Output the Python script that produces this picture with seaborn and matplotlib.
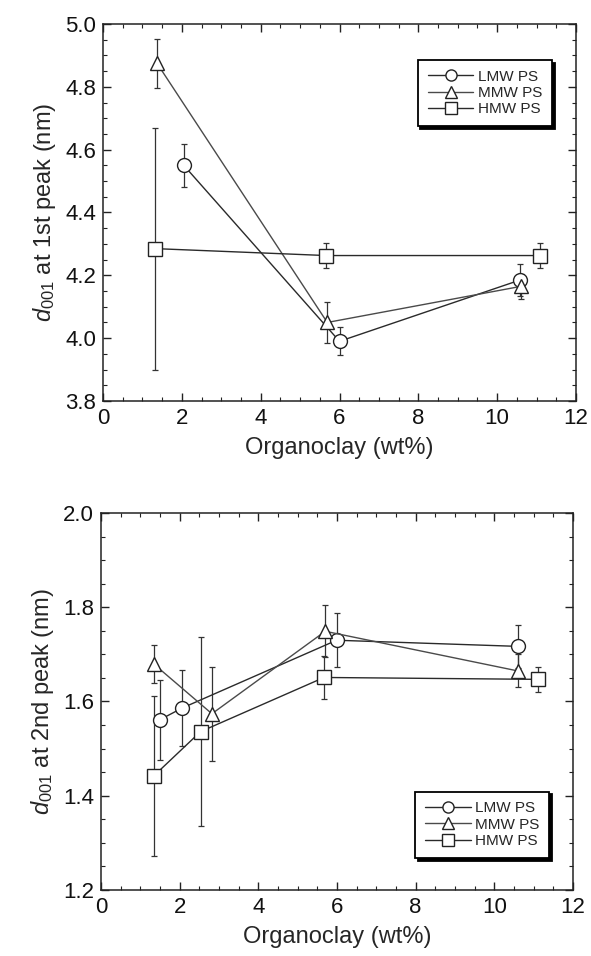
import numpy as np
import pandas as pd
import matplotlib
matplotlib.use("Agg")
import matplotlib.pyplot as plt
from matplotlib.ticker import MultipleLocator
from matplotlib.lines import Line2D
import seaborn as sns

# ---- data: top panel (1st peak) ----
series = ["LMW PS", "MMW PS", "HMW PS"]
top_x = {"LMW PS": [2.05, 6.0, 10.58], "MMW PS": [1.37, 5.69, 10.61], "HMW PS": [1.33, 5.66, 11.08]}
top_y = {"LMW PS": [4.55, 3.99, 4.185], "MMW PS": [4.875, 4.05, 4.165], "HMW PS": [4.285, 4.263, 4.263]}
top_e = {"LMW PS": [0.068, 0.045, 0.05], "MMW PS": [0.078, 0.064, 0.04], "HMW PS": [0.385, 0.04, 0.04]}

# ---- data: bottom panel (2nd peak) ----
bot_x = {"LMW PS": [1.49, 2.06, 5.99, 10.59], "MMW PS": [1.35, 2.82, 5.70, 10.59], "HMW PS": [1.34, 2.53, 5.67, 11.11]}
bot_y = {"LMW PS": [1.561, 1.586, 1.730, 1.717], "MMW PS": [1.679, 1.574, 1.749, 1.665], "HMW PS": [1.442, 1.536, 1.651, 1.647]}
bot_e = {"LMW PS": [0.085, 0.08, 0.057, 0.045], "MMW PS": [0.04, 0.10, 0.055, 0.035], "HMW PS": [0.17, 0.20, 0.045, 0.027]}

markers = {"LMW PS": "o", "MMW PS": "^", "HMW PS": "s"}
lcolors = {"LMW PS": "#2a2a2a", "MMW PS": "#4a4a4a", "HMW PS": "#2a2a2a"}

sns.set_style("ticks")
plt.rcParams["font.family"] = ["Liberation Sans", "DejaVu Sans"]
plt.rcParams["mathtext.fontset"] = "custom"
plt.rcParams["mathtext.rm"] = "Liberation Sans"
plt.rcParams["mathtext.it"] = "Liberation Sans:italic"

fig = plt.figure(figsize=(5.91, 9.56), dpi=100)
W, H = 591, 956
ax1 = fig.add_axes([103 / W, 1 - 401 / H, (576 - 103) / W, (401 - 24) / H])
ax2 = fig.add_axes([101 / W, 1 - 890 / H, (573 - 101) / W, (890 - 513) / H])


def draw(ax, xs, ys, es, ylim, ymaj, ylabel, legend_loc):
    for s in series:
        df = pd.DataFrame({"x": xs[s], "y": ys[s]})
        ax.errorbar(df["x"], df["y"], yerr=es[s], fmt="none", ecolor="#333333",
                    elinewidth=0.9, capsize=2.5, capthick=0.9, zorder=2)
        sns.lineplot(data=df, x="x", y="y", ax=ax, sort=False, color=lcolors[s],
                     linewidth=1.0, marker=markers[s], markersize=10,
                     markerfacecolor="white", markeredgecolor="#222222",
                     markeredgewidth=1.0, zorder=3, legend=False)
    ax.set_xlim(0, 12)
    ax.set_ylim(*ylim)
    ax.xaxis.set_major_locator(MultipleLocator(2))
    ax.xaxis.set_minor_locator(MultipleLocator(0.5))
    ax.yaxis.set_major_locator(MultipleLocator(ymaj))
    ax.yaxis.set_minor_locator(MultipleLocator(0.05))
    ax.yaxis.set_major_formatter(matplotlib.ticker.FormatStrFormatter("%.1f"))
    ax.tick_params(which="both", direction="in", top=True, right=True,
                   colors="#222222", labelcolor="#111111")
    ax.tick_params(which="major", length=6, width=1.0, labelsize=16, pad=5)
    ax.tick_params(which="minor", length=3, width=0.8)
    for sp in ax.spines.values():
        sp.set_visible(True)
        sp.set_linewidth(1.1)
        sp.set_color("#222222")
    ax.set_xlabel("Organoclay (wt%)", fontsize=17, labelpad=6)
    ax.set_ylabel(ylabel, fontsize=17, labelpad=5)
    handles = [Line2D([0], [0], color=lcolors[s], lw=1.0, marker=markers[s],
                      markersize=8, markerfacecolor="white", markeredgecolor="#222222")
               for s in series]
    leg = ax.legend(handles, series, loc=legend_loc, fontsize=11, frameon=True,
                    fancybox=False, shadow={"color": "black", "alpha": 1.0},
                    handlelength=3.0, handletextpad=0.3, labelspacing=0.15,
                    borderpad=0.65, borderaxespad=0.0)
    leg.get_frame().set_edgecolor("black")
    leg.get_frame().set_linewidth(1.3)
    return leg


l1 = draw(ax1, top_x, top_y, top_e, (3.8, 5.0), 0.2,
          r"$d_{001}$ at 1st peak (nm)", "upper right")
l1.set_bbox_to_anchor((0.95, 0.905), transform=ax1.transAxes)
l2 = draw(ax2, bot_x, bot_y, bot_e, (1.2, 2.0), 0.2,
          r"$d_{001}$ at 2nd peak (nm)", "lower right")
l2.set_bbox_to_anchor((0.95, 0.085), transform=ax2.transAxes)

fig.savefig("out.png", dpi=100, facecolor="white")
